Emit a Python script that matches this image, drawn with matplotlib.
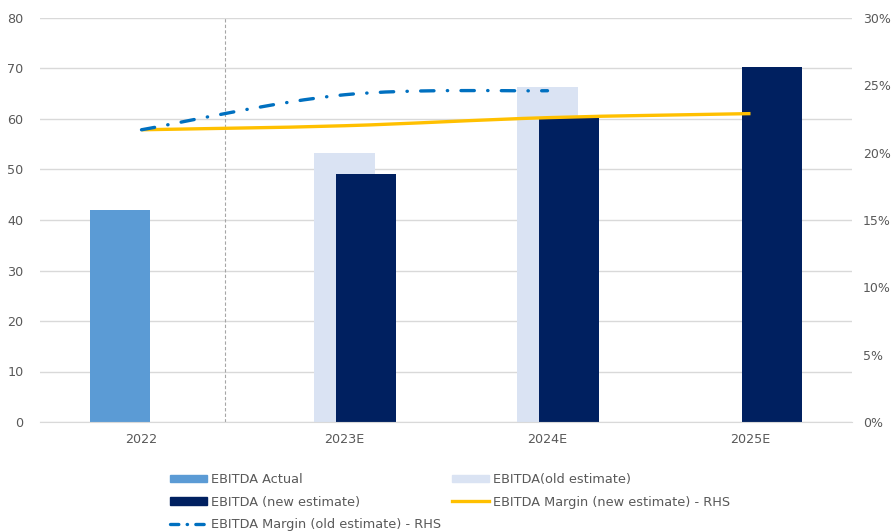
import numpy as np
import matplotlib
matplotlib.use("Agg")
import matplotlib.pyplot as plt
from matplotlib.path import Path
from matplotlib.patches import PathPatch
from matplotlib.lines import Line2D
from matplotlib.ticker import FuncFormatter

# --- data ---
years = ["2022", "2023E", "2024E", "2025E"]
ebitda_actual = [42.0, None, None, None]
ebitda_old = [None, 53.3, 66.3, None]
ebitda_new = [None, 49.1, 60.4, 70.3]
margin_new = [0.217, 0.220, 0.226, 0.229]
margin_old = [0.217, 0.243, 0.246]

C_ACTUAL = "#5B9BD5"
C_OLD = "#DAE3F3"
C_NEW = "#002060"
C_MARGIN_NEW = "#FFC000"
C_MARGIN_OLD = "#0070C0"
TXT = "#595959"

plt.rcParams["font.family"] = ["DejaVu Sans"]

fig = plt.figure(figsize=(8.92, 5.32), dpi=100)
ax = fig.add_axes([40 / 892, 1 - 422 / 532, (852 - 40) / 892, (422 - 18) / 532])
ax2 = ax.twinx()

x = np.arange(len(years))
w = 0.296
off = 0.108


def bars(vals, dx, color):
    xs = [xi + dx for xi, v in zip(x, vals) if v is not None]
    hs = [v for v in vals if v is not None]
    ax.bar(xs, hs, width=w, color=color, zorder=2)


bars(ebitda_actual, -off, C_ACTUAL)
bars(ebitda_old, 0, C_OLD)
bars(ebitda_new, off, C_NEW)

ax.set_xlim(-0.5, 3.5)
ax.set_ylim(0, 80)
ax.set_yticks(np.arange(0, 81, 10))
ax.grid(axis="y", color="#D9D9D9", lw=1, zorder=0)
ax.set_axisbelow(True)
for s in ["top", "right", "left"]:
    ax.spines[s].set_visible(False)
ax.spines["bottom"].set_color("#D9D9D9")
ax.set_xticks(x)
ax.set_xticklabels(years)
ax.tick_params(axis="both", length=0, labelsize=9.2, colors=TXT)
ax.tick_params(axis="x", pad=8)
ax.tick_params(axis="y", pad=12)

# divider between actual and estimated years
ax.axvline(0.41, color="#A6A6A6", lw=0.8, ls=(0, (3, 2)), zorder=1)

# right-hand axis: margins
ax2.set_ylim(0, 0.30)
ax2.set_yticks(np.arange(0, 0.301, 0.05))
ax2.yaxis.set_major_formatter(FuncFormatter(lambda v, p: f"{v * 100:.0f}%"))
ax2.tick_params(axis="y", length=0, labelsize=9, colors=TXT, pad=8)
for s in ax2.spines.values():
    s.set_visible(False)


def smooth_path(xs, ys):
    # Catmull-Rom style cubic Bezier through the points
    xs = np.asarray(xs, float)
    ys = np.asarray(ys, float)
    n = len(xs)
    verts = [(xs[0], ys[0])]
    codes = [Path.MOVETO]
    for i in range(n - 1):
        p0 = np.array([xs[max(i - 1, 0)], ys[max(i - 1, 0)]])
        p1 = np.array([xs[i], ys[i]])
        p2 = np.array([xs[i + 1], ys[i + 1]])
        p3 = np.array([xs[min(i + 2, n - 1)], ys[min(i + 2, n - 1)]])
        c1 = p1 + (p2 - p0) / 6
        c2 = p2 - (p3 - p1) / 6
        verts += [tuple(c1), tuple(c2), tuple(p2)]
        codes += [Path.CURVE4] * 3
    return Path(verts, codes)


DASHDOT = (0, (4.0, 4.0, 0.1, 4.0))

ax2.add_patch(PathPatch(smooth_path(x, margin_new), fill=False, edgecolor=C_MARGIN_NEW,
                        lw=2.4, capstyle="butt", zorder=3))
ax2.add_patch(PathPatch(smooth_path(x[:len(margin_old)], margin_old), fill=False,
                        edgecolor=C_MARGIN_OLD, lw=2.4, capstyle="round",
                        ls=DASHDOT, zorder=3))

# legend
handles = [
    plt.Rectangle((0, 0), 1, 1, color=C_ACTUAL),
    plt.Rectangle((0, 0), 1, 1, color=C_NEW),
    Line2D([], [], color=C_MARGIN_OLD, lw=2.4, ls=(0, (2.5, 2.5, 0.1, 2.5)),
           dash_capstyle="round"),
    plt.Rectangle((0, 0), 1, 1, color=C_OLD),
    Line2D([], [], color=C_MARGIN_NEW, lw=2.4),
]
labels = [
    "EBITDA Actual",
    "EBITDA (new estimate)",
    "EBITDA Margin (old estimate) - RHS",
    "EBITDA(old estimate)",
    "EBITDA Margin (new estimate) - RHS",
]
fig.legend(handles, labels, ncol=2, loc="upper left",
           bbox_to_anchor=(170 / 892, 1 - 473 / 532), frameon=False,
           fontsize=9.3, labelcolor=TXT, handlelength=2.85, handleheight=0.55,
           handletextpad=0.3, columnspacing=0.9, labelspacing=0.75,
           borderaxespad=0, borderpad=0)

fig.savefig("out.png", dpi=100)
